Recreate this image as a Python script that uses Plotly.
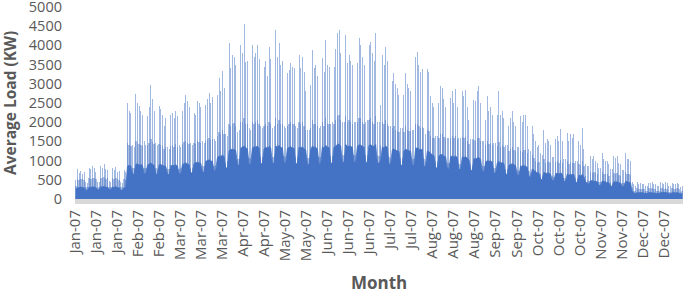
import plotly.graph_objects as go

# ---- data (one value per day of 2007) ----
# daily peak load (kW), rows = 7-day blocks
peak_kw = [
    500, 780, 690, 720, 650, 700, 430,
    420, 820, 780, 860, 800, 700, 450,
    430, 850, 820, 900, 780, 760, 460,
    430, 820, 760, 840, 700, 720, 450,
    420, 750, 700, 2500, 2300, 2250, 1400,
    1350, 2740, 2500, 2420, 2300, 2200, 1500,
    1400, 2160, 2400, 2980, 2600, 2300, 1450,
    1400, 2420, 2350, 2200, 1900, 2100, 1350,
    1300, 2200, 2250, 2100, 2290, 2150, 1400,
    1350, 2300, 2500, 2700, 2550, 2400, 1450,
    1400, 2250, 2200, 2550, 2500, 2400, 1500,
    1450, 2450, 2600, 2760, 2500, 2650, 1550,
    1500, 2700, 3150, 2800, 3330, 2900, 1700,
    1650, 4060, 3400, 3760, 3700, 3500, 1750,
    1800, 4020, 3800, 4560, 3580, 3600, 1850,
    1800, 4020, 3700, 3800, 4020, 3650, 1900,
    1850, 3450, 3600, 3200, 3970, 3650, 1850,
    1900, 4400, 3690, 4060, 3500, 3600, 1900,
    1850, 3280, 3370, 3540, 3450, 3400, 1900,
    1850, 3760, 3400, 3710, 3300, 2800, 1800,
    1800, 2980, 3890, 3400, 3500, 3200, 1850,
    1900, 3670, 3300, 4150, 3500, 3450, 1950,
    2000, 3450, 3900, 4320, 4400, 3800, 2000,
    2000, 4280, 3540, 3760, 3600, 3500, 2000,
    2000, 3540, 4190, 4020, 3700, 3500, 2000,
    2050, 4020, 4100, 3800, 3600, 4320, 2000,
    2000, 2460, 3760, 3500, 3970, 3600, 1900,
    1900, 3070, 3280, 3000, 2900, 2700, 1850,
    1850, 2720, 3280, 3000, 2900, 2800, 1800,
    1800, 3710, 3820, 3500, 3300, 3390, 1850,
    1700, 3390, 3300, 2680, 2500, 2400, 1650,
    1650, 2500, 2950, 2890, 2600, 2400, 1600,
    1600, 2630, 2810, 2500, 2870, 2400, 1600,
    1600, 2810, 2680, 2850, 2400, 2070, 1550,
    1550, 2590, 2550, 2800, 2950, 2500, 1500,
    1500, 2070, 2680, 2290, 2400, 2200, 1450,
    1450, 2200, 2810, 2200, 2290, 2100, 1400,
    1400, 1900, 2100, 2290, 2000, 1900, 1350,
    1350, 2160, 2000, 2200, 2200, 1900, 1300,
    1250, 1900, 1700, 1510, 1350, 1400, 1200,
    1150, 1810, 1470, 1550, 1500, 1400, 1100,
    1100, 1550, 1640, 1500, 1830, 1500, 1050,
    1050, 1730, 1500, 1680, 1600, 1680, 1000,
    1000, 1510, 1400, 1860, 1300, 900, 850,
    850, 1120, 1040, 1120, 1000, 950, 800,
    800, 1190, 1040, 1000, 980, 900, 780,
    780, 1120, 1080, 1120, 950, 900, 750,
    750, 1210, 1050, 1040, 1000, 450, 380,
    350, 430, 400, 420, 380, 400, 350,
    340, 420, 410, 430, 400, 380, 340,
    340, 430, 420, 400, 430, 410, 330,
    330, 420, 400, 380, 420, 400, 320,
    350,
]

# daily level reached by the dense band of hourly values (kW)
mid_kw = [
    330, 520, 500, 530, 510, 500, 300,
    300, 540, 520, 560, 540, 520, 310,
    310, 560, 540, 580, 530, 540, 320,
    310, 540, 520, 550, 510, 500, 300,
    300, 520, 500, 1450, 1400, 1380, 800,
    800, 1500, 1450, 1420, 1400, 1380, 820,
    800, 1400, 1450, 1550, 1480, 1420, 800,
    790, 1420, 1400, 1380, 1300, 1350, 780,
    780, 1380, 1400, 1350, 1420, 1360, 790,
    800, 1420, 1480, 1520, 1460, 1440, 820,
    820, 1450, 1430, 1500, 1480, 1450, 850,
    850, 1520, 1560, 1600, 1540, 1560, 870,
    880, 1650, 1750, 1700, 1800, 1700, 950,
    980, 1950, 1900, 1950, 1980, 1900, 1050,
    1050, 2000, 2000, 2100, 1950, 1950, 1080,
    1080, 2000, 1950, 2000, 2050, 1950, 1100,
    1100, 1900, 1950, 1900, 2000, 1950, 1100,
    1100, 2100, 1950, 2050, 1950, 1950, 1120,
    1100, 1900, 1950, 2000, 1950, 1950, 1100,
    1100, 2000, 1950, 2000, 1900, 1800, 1080,
    1080, 1850, 2050, 1950, 1950, 1900, 1090,
    1100, 2000, 1900, 2100, 1950, 1950, 1120,
    1120, 1950, 2050, 2150, 2200, 2050, 1150,
    1150, 2150, 2000, 2050, 2000, 1950, 1150,
    1150, 2000, 2100, 2100, 2000, 1950, 1150,
    1150, 2050, 2100, 2000, 1950, 2150, 1150,
    1120, 1400, 2000, 1950, 2050, 1950, 1100,
    1080, 1850, 1900, 1800, 1780, 1750, 1060,
    1060, 1750, 1900, 1800, 1780, 1760, 1050,
    1050, 1950, 1950, 1900, 1850, 1880, 1040,
    1000, 1800, 1780, 1650, 1600, 1580, 980,
    960, 1600, 1700, 1680, 1620, 1580, 940,
    940, 1600, 1650, 1580, 1650, 1560, 920,
    920, 1620, 1580, 1620, 1520, 1420, 900,
    890, 1540, 1520, 1580, 1600, 1500, 870,
    850, 1400, 1500, 1420, 1450, 1400, 820,
    810, 1380, 1480, 1360, 1400, 1350, 790,
    780, 1250, 1300, 1350, 1280, 1250, 750,
    740, 1260, 1220, 1280, 1270, 1200, 720,
    680, 1150, 1080, 1000, 950, 960, 640,
    620, 1050, 950, 980, 970, 930, 600,
    580, 970, 990, 950, 1020, 950, 560,
    560, 980, 920, 960, 940, 950, 540,
    530, 920, 880, 980, 860, 600, 500,
    480, 700, 680, 700, 670, 650, 450,
    440, 700, 660, 650, 640, 610, 430,
    420, 680, 660, 680, 620, 600, 410,
    410, 700, 650, 640, 620, 280, 220,
    200, 280, 260, 270, 250, 260, 200,
    200, 280, 270, 280, 260, 250, 200,
    200, 280, 275, 260, 280, 270, 195,
    195, 275, 265, 255, 275, 265, 190,
    200,
]

# daily typical (solid) load level (kW)
base_kw = [
    250, 300, 290, 310, 300, 290, 230,
    230, 310, 300, 320, 310, 300, 240,
    240, 320, 310, 330, 300, 310, 240,
    240, 310, 300, 320, 300, 290, 230,
    230, 300, 290, 850, 880, 860, 650,
    640, 900, 920, 880, 900, 870, 660,
    650, 880, 910, 940, 900, 880, 650,
    640, 890, 900, 870, 860, 850, 640,
    630, 860, 880, 870, 890, 860, 650,
    650, 900, 920, 940, 910, 900, 680,
    680, 930, 950, 960, 940, 930, 700,
    700, 980, 1000, 1020, 990, 980, 720,
    740, 1080, 1120, 1100, 1150, 1100, 800,
    820, 1250, 1300, 1280, 1300, 1260, 880,
    880, 1320, 1350, 1380, 1340, 1300, 900,
    900, 1330, 1360, 1350, 1380, 1320, 920,
    920, 1300, 1350, 1320, 1370, 1330, 930,
    930, 1380, 1350, 1400, 1340, 1330, 940,
    930, 1320, 1340, 1360, 1330, 1320, 920,
    920, 1350, 1330, 1360, 1300, 1280, 900,
    900, 1280, 1380, 1340, 1350, 1300, 910,
    920, 1360, 1320, 1400, 1350, 1340, 930,
    940, 1350, 1380, 1420, 1430, 1380, 950,
    950, 1420, 1360, 1380, 1370, 1350, 950,
    950, 1370, 1410, 1400, 1380, 1350, 950,
    960, 1400, 1410, 1380, 1370, 1420, 950,
    930, 1000, 1350, 1330, 1380, 1340, 920,
    900, 1280, 1300, 1270, 1260, 1240, 880,
    880, 1250, 1300, 1270, 1260, 1240, 870,
    870, 1320, 1330, 1300, 1280, 1290, 860,
    840, 1250, 1230, 1180, 1150, 1130, 820,
    800, 1120, 1160, 1150, 1120, 1100, 780,
    780, 1100, 1120, 1090, 1120, 1080, 770,
    770, 1100, 1080, 1100, 1060, 1020, 750,
    740, 1050, 1040, 1070, 1080, 1030, 720,
    700, 960, 1000, 980, 990, 960, 680,
    670, 940, 980, 930, 950, 920, 650,
    640, 880, 900, 920, 890, 870, 620,
    610, 860, 850, 870, 860, 830, 590,
    560, 780, 740, 700, 680, 680, 520,
    500, 700, 660, 680, 670, 650, 480,
    470, 660, 670, 650, 680, 650, 460,
    450, 650, 620, 640, 630, 640, 440,
    430, 620, 600, 640, 580, 450, 400,
    380, 480, 470, 480, 460, 450, 360,
    350, 470, 450, 440, 430, 420, 340,
    330, 450, 440, 450, 420, 410, 320,
    320, 460, 440, 430, 420, 180, 150,
    140, 170, 160, 170, 160, 160, 140,
    140, 170, 165, 170, 160, 160, 140,
    140, 170, 170, 160, 170, 165, 135,
    135, 165, 160, 155, 165, 160, 130,
    140,
]

tick_labels = ["Jan-07", "Jan-07", "Jan-07", "Feb-07", "Feb-07", "Mar-07",
               "Mar-07", "Mar-07", "Apr-07", "Apr-07", "May-07", "May-07",
               "Jun-07", "Jun-07", "Jun-07", "Jul-07", "Jul-07", "Aug-07",
               "Aug-07", "Aug-07", "Sep-07", "Sep-07", "Oct-07", "Oct-07",
               "Oct-07", "Nov-07", "Nov-07", "Dec-07", "Dec-07"]
y_ticks = [0, 500, 1000, 1500, 2000, 2500, 3000, 3500, 4000, 4500, 5000]

assert len(peak_kw) == 365 and len(base_kw) == 365 and len(mid_kw) == 365

days = [d + 0.5 for d in range(len(peak_kw))]
label_step_days = 303 / 24.0          # Excel label interval (303 hourly categories)
tick_pos = [k * label_step_days for k in range(len(tick_labels))]

BLUE = "#4472C4"
GREY_TXT = "#595959"
FONT = "Open Sans"

fig = go.Figure()
fig.add_trace(go.Bar(x=days, y=peak_kw, width=0.6,
                     marker=dict(color="rgba(68,114,196,0.5)", line=dict(width=0)),
                     hoverinfo="skip", showlegend=False))
fig.add_trace(go.Bar(x=days, y=mid_kw, width=0.85,
                     marker=dict(color="rgba(68,114,196,0.45)", line=dict(width=0)),
                     hoverinfo="skip", showlegend=False))
fig.add_trace(go.Scatter(x=days, y=base_kw, mode="lines", line=dict(width=0.8, color=BLUE),
                         fill="tozeroy", fillcolor=BLUE,
                         hoverinfo="skip", showlegend=False))

fig.update_layout(
    width=685, height=289,
    margin=dict(l=75, r=2, t=7, b=90, autoexpand=False),
    paper_bgcolor="white", plot_bgcolor="white",
    barmode="overlay", bargap=0,
    font=dict(family=FONT, color=GREY_TXT),
    xaxis=dict(range=[0, 365], tickmode="array", tickvals=tick_pos, ticktext=tick_labels,
               tickangle=-90, tickfont=dict(size=15, color=GREY_TXT, family=FONT),
               showgrid=False, zeroline=False, showline=True, linecolor="#d9d9d9",
               linewidth=5, ticks="", automargin=False),
    yaxis=dict(range=[0, 5000], tickmode="array", tickvals=y_ticks,
               ticktext=[str(v) for v in y_ticks],
               tickfont=dict(size=14.5, color=GREY_TXT, family=FONT),
               showgrid=False, zeroline=False, showline=False, ticks="",
               ticklabelstandoff=12, ticklabeloverflow="allow", automargin=False),
    annotations=[
        dict(text="<b>Average Load (KW)</b>", xref="paper", yref="paper",
             x=(10 - 75) / 608, y=0.5, xanchor="center", yanchor="middle",
             textangle=-90, showarrow=False, font=dict(size=15.5, color=GREY_TXT, family=FONT)),
        dict(text="<b>Month</b>", xref="paper", yref="paper",
             x=0.5, y=(199 - 282.5) / 192, xanchor="center", yanchor="middle",
             showarrow=False, font=dict(size=17, color=GREY_TXT, family=FONT)),
    ],
)

fig.write_html("out.html", config={"displayModeBar": False},
               post_script="document.body.style.margin='0';")
